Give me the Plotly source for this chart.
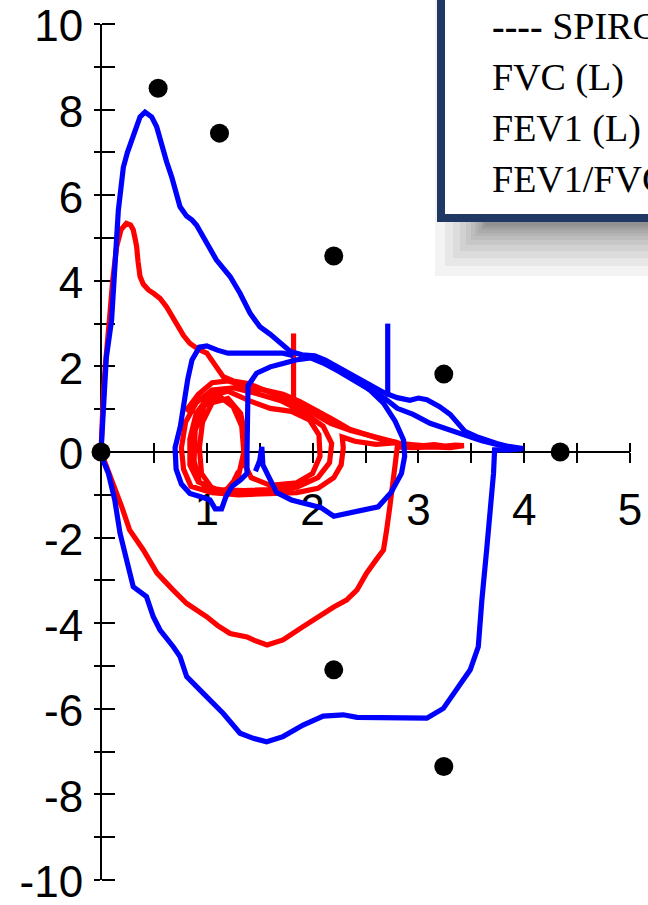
import plotly.graph_objects as go

# ---------------- data ----------------
# predicted reference points (volume L, flow L/s)
pred_x = [0.0, 0.54, 1.12, 2.20, 3.24, 4.34, 2.20, 3.24]
pred_y = [0.0, 8.50, 7.45, 4.58, 1.82, 0.0, -5.09, -7.35]

# forced loop, post (blue)
blue_x = [0, 0.01, 0.02, 0.05, 0.10, 0.13, 0.164, 0.19, 0.211, 0.25, 0.305, 0.369, 0.416, 0.479,
          0.526, 0.573, 0.62, 0.668, 0.71, 0.747, 0.81, 0.86, 0.904, 0.983, 1.09, 1.22, 1.314,
          1.41, 1.50, 1.60, 1.70, 1.79, 1.90, 2.02, 2.12, 2.25, 2.40, 2.55, 2.68, 2.80, 2.92,
          3.00, 3.08, 3.20, 3.30, 3.37, 3.44, 3.55, 3.65, 3.74, 3.85, 3.99, 3.85, 3.72, 3.71,
          3.69, 3.645, 3.60, 3.566, 3.49, 3.33, 3.236, 3.08, 2.80, 2.42, 2.29, 2.10, 1.91, 1.72,
          1.566, 1.44, 1.314, 1.156, 0.967, 0.81, 0.747, 0.683, 0.558, 0.494, 0.43, 0.305, 0.25,
          0.18, 0.13, 0.07, 0.02, 0]
blue_y = [0, 0.5, 1.21, 2.2, 3.08, 4.3, 5.65, 6.2, 6.65, 7.0, 7.37, 7.83, 7.94, 7.83,
          7.60, 7.13, 6.78, 6.43, 6.05, 5.73, 5.51, 5.42, 5.30, 4.95, 4.49, 4.10, 3.71,
          3.24, 2.93, 2.75, 2.55, 2.35, 2.27, 2.25, 2.15, 1.97, 1.76, 1.56, 1.38, 1.27, 1.21,
          1.26, 1.22, 1.06, 0.88, 0.68, 0.48, 0.36, 0.27, 0.20, 0.13, 0.08, 0.05, 0.05, -0.5,
          -1.12, -2.29, -3.46, -4.55, -5.09, -5.64, -5.99, -6.22, -6.22, -6.20, -6.14, -6.17, -6.38, -6.65,
          -6.77, -6.69, -6.57, -6.11, -5.64, -5.25, -4.78, -4.55, -4.16, -3.85, -3.38, -3.15, -2.6,
          -1.9, -1.12, -0.5, -0.2, 0]

# tidal breathing, post (blue)
blue_tidal_x = [1.82, 1.72, 1.45, 1.20, 1.10, 1.00, 0.93, 0.86, 0.82, 0.79, 0.75, 0.70, 0.71, 0.76,
                0.84, 0.95, 1.03, 1.08, 1.14, 1.18, 1.24, 1.32, 1.38, 1.38, 1.38, 1.39, 1.47, 1.60,
                1.72, 1.84, 1.98, 2.10, 2.25, 2.40, 2.55, 2.70, 2.80, 2.95, 3.11, 3.28, 3.45, 3.60,
                3.75, 3.90]
blue_tidal_y = [2.25, 2.31, 2.31, 2.31, 2.38, 2.48, 2.45, 2.15, 1.70, 1.20, 0.60, 0.10, -0.40, -0.75,
                -0.97, -1.05, -1.12, -1.33, -1.33, -1.05, -0.80, -0.65, -0.50, 0.0, 0.80, 1.55, 1.84, 1.99,
                2.07, 2.15, 2.20, 2.08, 1.88, 1.66, 1.45, 1.22, 1.02, 0.88, 0.67, 0.52, 0.40, 0.26,
                0.17, 0.10]
blue_loop_x = [1.46, 1.50, 1.52, 1.53, 1.58, 1.66, 1.80, 1.95, 2.08, 2.20, 2.35, 2.50, 2.62, 2.74,
               2.84, 2.87, 2.86, 2.78, 2.67, 2.54, 2.40]
blue_loop_y = [-0.45, -0.20, 0.12, -0.30, -0.55, -0.95, -1.12, -1.22, -1.30, -1.50, -1.43, -1.36, -1.28, -0.95,
               -0.50, -0.10, 0.28, 0.72, 1.14, 1.45, 1.72]

# forced loop, pre (red)
red_x = [0, 0.005, 0.02, 0.04, 0.06, 0.085, 0.11, 0.148, 0.19, 0.24, 0.28, 0.305, 0.325, 0.337,
         0.35, 0.369, 0.40, 0.447, 0.50, 0.558, 0.62, 0.68, 0.725, 0.78, 0.84, 0.92, 1.0, 1.08,
         1.155, 1.25, 1.39, 1.55, 1.78, 1.97, 2.17, 2.36, 2.56, 2.70, 2.83, 2.95, 3.05, 3.15,
         3.25, 3.35, 3.43, 3.30, 3.12, 2.95, 2.80, 2.78, 2.76, 2.73, 2.70, 2.67, 2.60, 2.51,
         2.42, 2.32, 2.20, 2.10, 1.91, 1.72, 1.57, 1.45, 1.38, 1.22, 1.10, 1.00, 0.81, 0.68,
         0.53, 0.40, 0.27, 0.196, 0.116, 0.05, 0]
red_y = [0, 0.5, 1.2, 2.0, 2.7, 3.24, 4.0, 4.8, 5.2, 5.34, 5.30, 5.19, 4.95, 4.80,
         4.45, 4.10, 3.92, 3.79, 3.70, 3.59, 3.39, 3.12, 2.93, 2.72, 2.54, 2.40, 2.31, 2.05,
         1.76, 1.66, 1.60, 1.44, 1.21, 0.95, 0.67, 0.50, 0.36, 0.27, 0.20, 0.17, 0.15, 0.17,
         0.14, 0.16, 0.15, 0.10, 0.12, 0.10, 0.12, -0.30, -0.80, -1.28, -1.82, -2.29, -2.52, -2.83,
         -3.22, -3.46, -3.62, -3.77, -4.08, -4.39, -4.51, -4.40, -4.32, -4.24, -4.05, -3.85, -3.54, -3.22,
         -2.83, -2.29, -1.82, -1.28, -0.73, -0.35, 0]

# tidal breathing, pre (red)
red_tidal_x = [0.80, 0.92, 1.05, 1.20, 1.41, 1.60, 1.72, 1.88, 2.04, 2.20, 2.35, 2.50, 2.67, 2.80,
               2.60, 2.40, 2.28, 2.29, 2.27, 2.20, 2.05, 1.85, 1.60, 1.30, 1.05, 0.85, 0.78, 0.76,
               0.80, 0.90, 1.05, 1.25, 1.45, 1.70, 1.90, 2.10, 2.18, 2.16, 2.05, 1.85, 1.60, 1.35,
               1.10, 0.92, 0.84, 0.84, 0.90, 1.02, 1.20, 1.40, 1.60, 1.80, 1.97, 2.06, 2.07, 2.00,
               1.85, 1.60, 1.42, 1.36, 1.37, 1.32, 1.20, 1.05, 0.96, 0.93, 0.95, 1.05, 1.18, 1.30,
               1.35, 1.33, 1.25, 1.12, 0.98, 0.89, 0.88, 0.93, 1.08, 1.22, 1.30]
red_tidal_y = [0.95, 1.35, 1.62, 1.66, 1.52, 1.42, 1.35, 1.18, 0.98, 0.75, 0.53, 0.40, 0.28, 0.22,
               0.18, 0.25, 0.35, 0.10, -0.30, -0.60, -0.85, -0.95, -0.98, -1.00, -0.95, -0.80, -0.40, 0.10,
               0.70, 1.15, 1.45, 1.50, 1.38, 1.20, 0.95, 0.60, 0.20, -0.25, -0.60, -0.82, -0.88, -0.90,
               -0.88, -0.70, -0.30, 0.30, 0.90, 1.30, 1.42, 1.20, 1.02, 0.95, 0.75, 0.40, -0.10, -0.50,
               -0.72, -0.78, -0.60, -0.30, 0.30, 0.90, 1.25, 1.15, 0.70, 0.10, -0.50, -0.85, -0.90, -0.55,
               0.0, 0.60, 1.05, 1.30, 1.10, 0.50, -0.20, -0.70, -0.95, -0.85, -0.45]

# FEV1 markers
red_mark_x = [1.82, 1.82]
red_mark_y = [1.21, 2.77]
blue_mark_x = [2.71, 2.71]
blue_mark_y = [1.29, 3.00]

# axis ticks
x_tick_vals = [0, 0.5, 1, 1.5, 2, 2.5, 3, 3.5, 4, 4.5, 5]
x_tick_text = ["", "", "1", "", "2", "", "3", "", "4", "", "5"]
y_tick_vals = list(range(-10, 11))
y_tick_text = [str(v) if v % 2 == 0 else "" for v in y_tick_vals]

legend_lines = ["<b>----</b> SPIROMETRÍA", "FVC (L)", "FEV1 (L)", "FEV1/FVC (%)"]

# ---------------- geometry ----------------
W, H = 648, 905
X0_PX, X_SCALE = 101.0, 105.8      # pixel of volume 0, pixels per litre
Y0_PX, Y_SCALE = 452.0, 42.8       # pixel of flow 0, pixels per L/s


def fx(v):
    return (X0_PX + v * X_SCALE) / W


def fy(v):
    return 1 - (Y0_PX - v * Y_SCALE) / H


def pfx(px):
    return px / W


def pfy(py):
    return 1 - py / H


full_x = [-X0_PX / X_SCALE, (W - X0_PX) / X_SCALE]
full_y = [-(H - Y0_PX) / Y_SCALE, Y0_PX / Y_SCALE]

BLUE = "#0000FF"
RED = "#FF0000"
LW = 5.2

fig = go.Figure()

# placeholders so the crossing axes are drawn
fig.add_trace(go.Scatter(x=[], y=[], xaxis="x", yaxis="y", showlegend=False, hoverinfo="skip"))
fig.add_trace(go.Scatter(x=[], y=[], xaxis="x2", yaxis="y2", showlegend=False, hoverinfo="skip"))


def line(xs, ys, color):
    fig.add_trace(go.Scatter(x=xs, y=ys, mode="lines", xaxis="x3", yaxis="y3",
                             line=dict(color=color, width=LW), showlegend=False,
                             hoverinfo="skip"))


line(red_tidal_x, red_tidal_y, RED)
line(red_x, red_y, RED)
line(red_mark_x, red_mark_y, RED)
line(blue_loop_x, blue_loop_y, BLUE)
line(blue_tidal_x, blue_tidal_y, BLUE)
line(blue_x, blue_y, BLUE)
line(blue_mark_x, blue_mark_y, BLUE)

fig.add_trace(go.Scatter(x=pred_x, y=pred_y, mode="markers", xaxis="x3", yaxis="y3",
                         marker=dict(color="black", size=19), cliponaxis=False,
                         showlegend=False, hoverinfo="skip"))

tick_font = dict(family="Liberation Sans, Arial, sans-serif", size=44, color="black")
xdom = [fx(0), fx(5)]
ydom = [fy(-10), fy(10)]

fig.update_layout(
    width=W, height=H,
    margin=dict(l=0, r=0, t=0, b=0, autoexpand=False),
    paper_bgcolor="white",
    plot_bgcolor="rgba(0,0,0,0)",
    showlegend=False,
    xaxis=dict(domain=xdom, range=[0, 5], anchor="free", position=fy(0), automargin=False,
               showline=True, linecolor="black", linewidth=2,
               ticks="outside", ticklen=10, tickwidth=2, tickcolor="black",
               tickmode="array", tickvals=x_tick_vals, ticktext=x_tick_text,
               tickfont=tick_font, ticklabelstandoff=9, ticklabeloverflow="allow",
               showgrid=False, zeroline=False),
    yaxis=dict(domain=ydom, range=[-10, 10], anchor="free", position=fx(0), automargin=False,
               showline=True, linecolor="black", linewidth=2,
               ticks="outside", ticklen=6, tickwidth=2, tickcolor="black",
               tickmode="array", tickvals=y_tick_vals, ticktext=y_tick_text,
               tickfont=tick_font, ticklabelstandoff=2, ticklabelshift=2,
               ticklabeloverflow="allow",
               showgrid=False, zeroline=False),
    xaxis2=dict(overlaying="x", range=[0, 5], side="top", anchor="free", position=fy(0),
                automargin=False, showline=False,
                ticks="outside", ticklen=9, tickwidth=2, tickcolor="black",
                tickmode="array", tickvals=x_tick_vals, showticklabels=False,
                showgrid=False, zeroline=False),
    yaxis2=dict(overlaying="y", range=[-10, 10], side="right", anchor="free", position=fx(0),
                automargin=False, showline=False,
                ticks="outside", ticklen=13, tickwidth=2, tickcolor="black",
                tickmode="array", tickvals=y_tick_vals, showticklabels=False,
                showgrid=False, zeroline=False),
    xaxis3=dict(domain=[0, 1], range=full_x, anchor="y3", visible=False, fixedrange=True,
                automargin=False),
    yaxis3=dict(domain=[0, 1], range=full_y, anchor="x3", visible=False, fixedrange=True,
                automargin=False),
)

# soft drop shadow behind the results box (stacked translucent layers)
shapes = []
for r in [0, 2, 4, 7, 10, 14, 19, 25, 32, 40, 50]:
    shapes.append(dict(type="rect", xref="paper", yref="paper", layer="above",
                       x0=pfx(485 - r), x1=pfx(720), y0=pfy(226 + r), y1=pfy(-60),
                       line=dict(width=0), fillcolor="rgba(0,0,0,0.048)"))
# results box
shapes.append(dict(type="rect", xref="paper", yref="paper", layer="above",
                   x0=pfx(441), x1=pfx(720), y0=pfy(218), y1=pfy(-60),
                   line=dict(color="#1F3864", width=8), fillcolor="white"))
fig.update_layout(shapes=shapes)

legend_y_px = [26, 78, 128, 180]
for txt, ypx in zip(legend_lines, legend_y_px):
    fig.add_annotation(xref="paper", yref="paper", x=pfx(490), y=pfy(ypx),
                       xanchor="left", yanchor="middle", showarrow=False, text=txt,
                       font=dict(family="Liberation Serif, Times New Roman, serif",
                                 size=38, color="black"))

page_css = ("document.body.style.margin='0';document.body.style.padding='0';"
            "document.body.style.overflow='hidden';"
            "document.documentElement.style.overflow='hidden';")
fig.write_html("out.html", post_script=page_css)
